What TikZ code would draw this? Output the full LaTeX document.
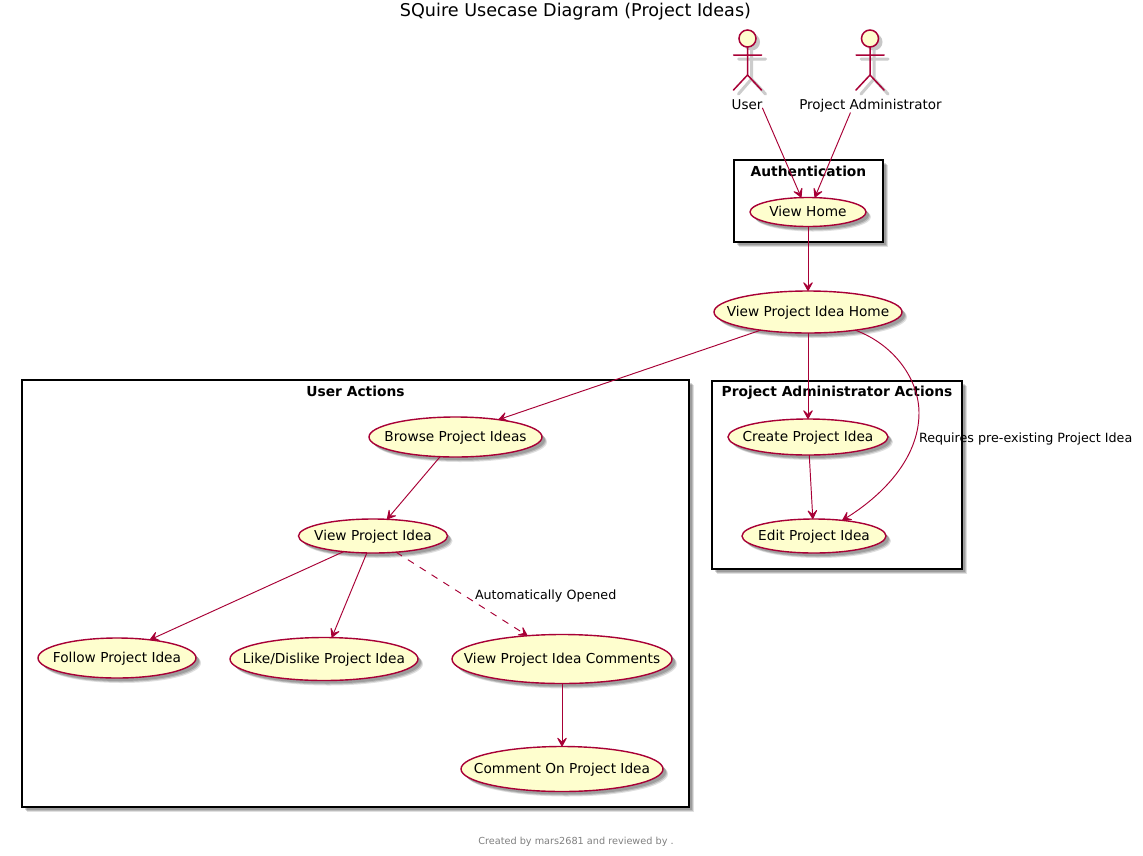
\documentclass[tikz,border=0pt]{standalone}
\usepackage{fontspec}
\setmainfont{DejaVu Sans}
\usetikzlibrary{shapes.geometric,shadows,arrows.meta}
\definecolor{pred}{HTML}{A80036}
\definecolor{pyellow}{HTML}{FEFECE}
\newcommand{\ct}[1]{\makebox[0pt]{\raisebox{-4.5pt}[0pt][0pt]{#1}}}
\newcommand{\pu}[1]{\fontsize{#1}{#1}\selectfont}
\tikzset{
  softshadow/.style={
    general shadow={shadow xshift=3pt,shadow yshift=-3pt,fill=black,opacity=.16},
    general shadow={shadow xshift=4pt,shadow yshift=-4pt,fill=black,opacity=.16},
    general shadow={shadow xshift=5pt,shadow yshift=-5pt,fill=black,opacity=.12}},
  uc/.style={ellipse,draw=pred,fill=pyellow,line width=1.4pt,inner sep=0pt,outer sep=0pt,softshadow,font=\pu{13.7}},
  frm/.style={rectangle,draw=black,fill=white,line width=1.9pt,inner sep=0pt,outer sep=0pt,softshadow},
  frmtitle/.style={font=\pu{13.8}\bfseries,inner sep=0pt,text height=10.5pt,text depth=3pt},
  lbl/.style={inner sep=0pt,outer sep=0pt,text height=10pt,text depth=3pt},
  conn/.style={draw=pred,line width=.95pt,-{Stealth[length=11pt,width=12pt,inset=5.5pt,round]}},
  limb/.style={draw=pred,line width=1.5pt,line cap=round},
  limbshadow/.style={draw=black!20,line width=3pt,line cap=round},
}
\newcommand{\actor}[2]{%
  \begin{scope}[shift={(#1,0)}]
    \fill[black!22] (4,42) circle (8.5pt);
    \draw[limbshadow] (4,50)--(4,79) (-9,59)--(18,59) (4,79)--(-9,94) (4,79)--(18,94);
    \node[circle,draw=pred,fill=pyellow,line width=1.5pt,minimum size=17pt,inner sep=0pt,outer sep=0pt] (#2) at (0,38.5) {};
    \coordinate (#2hip) at (0,75);
    \coordinate (#2armL) at (-14,55);
    \coordinate (#2armR) at (14,55);
    \coordinate (#2footL) at (-14,90);
    \coordinate (#2footR) at (14,90);
    \draw[limb] (#2.south)--(#2hip) (#2armL)--(#2armR) (#2footL)--(#2hip)--(#2footR);
  \end{scope}}
\begin{document}
\begin{tikzpicture}[x=1pt,y=-1pt]
\useasboundingbox (0,0) rectangle (1143,855);
\fill[white] (0,0) rectangle (1143,855);

\node[font=\pu{17.6},inner sep=0pt] (title) at (575.5,12) {SQuire Usecase Diagram (Project Ideas)};
\node[font=\pu{9.7},text=black!50,inner sep=0pt] (foot) at (576,842) {Created by mars2681 and reviewed by .};

% frames
\node[frm,minimum width=149pt,minimum height=82pt] (fauth) at (808.5,201) {};
\node[frm,minimum width=250pt,minimum height=188pt] (fadmin) at (837,475) {};
\node[frm,minimum width=667pt,minimum height=427pt] (fuser) at (355.5,593.5) {};
\node[frmtitle] (tauth) at (808.5,172.5) {Authentication};
\node[frmtitle] (tadmin) at (837,393) {Project Administrator Actions};
\node[frmtitle] (tuser) at (355.5,392.5) {User Actions};

% actors
\actor{747.5}{user}
\actor{870}{admin}
\node[lbl,font=\pu{13.5}] (luser) at (747,106) {User};
\node[lbl,font=\pu{13.5}] (ladmin) at (870.5,106) {Project Administrator};

% use cases
\node[uc,minimum width=116pt,minimum height=29pt] (viewhome) at (808,212) {\ct{View Home}};
\node[uc,minimum width=188pt,minimum height=42pt] (vpih) at (808,312) {\ct{View Project Idea Home}};
\node[uc,minimum width=160pt,minimum height=36pt] (create) at (808,437) {\ct{Create Project Idea}};
\node[uc,minimum width=144pt,minimum height=34pt] (edit) at (814,536) {\ct{Edit Project Idea}};
\node[uc,minimum width=173pt,minimum height=40pt] (browse) at (455.5,437) {\ct{Browse Project Ideas}};
\node[uc,minimum width=149pt,minimum height=34pt] (vpi) at (373,536) {\ct{View Project Idea}};
\node[uc,minimum width=158pt,minimum height=40pt] (follow) at (117,658) {\ct{Follow Project Idea}};
\node[uc,minimum width=188pt,minimum height=43pt] (like) at (324,659) {\ct{Like/Dislike Project Idea}};
\node[uc,minimum width=220pt,minimum height=49pt] (comments) at (562,659) {\ct{View Project Idea Comments}};
\node[uc,minimum width=202pt,minimum height=45pt] (commenton) at (562,769) {\ct{Comment On Project Idea}};

% connectors
\draw[conn] (luser.-7) -- (viewhome.115);
\draw[conn] (ladmin.-162) -- (viewhome.65);
\draw[conn] (viewhome.south) -- (vpih.north);
\draw[conn] (vpih.201) -- (browse.22);
\draw[conn] (vpih.south) -- (create.north);
\draw[conn] (create.-86) -- (edit.94);
\coordinate (bend) at (919,413);
\draw[conn] (vpih.-21) .. controls (895,345) and (919,380) .. (bend) .. controls (919,460) and (880,497) .. (edit.29);
\draw[conn] (browse.232) -- (vpi.50);
\draw[conn] (vpi.208) -- (follow.29);
\draw[conn] (vpi.250) -- (like.70);
\draw[conn,dash pattern=on 7pt off 7pt] (vpi.-35) -- (comments.146);
\draw[conn] (comments.south) -- (commenton.north);

\node[lbl,anchor=west,font=\pu{12.7}] (lreq) at (919,439) {Requires pre-existing Project Idea};
\node[lbl,anchor=west,font=\pu{12.7}] (lauto) at (475,596) {Automatically Opened};
\end{tikzpicture}
\end{document}
